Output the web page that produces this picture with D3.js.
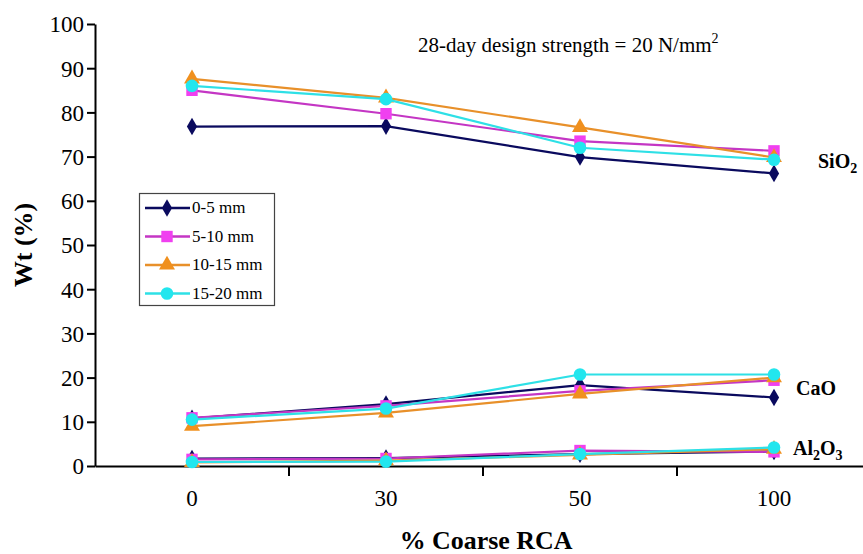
<!DOCTYPE html>
<html>
<head>
<meta charset="utf-8">
<script src="https://cdn.jsdelivr.net/npm/d3@7"></script>
<style>
  body { margin: 0; background: #fff; }
</style>
</head>
<body>
<svg id="chart" width="863" height="554"></svg>
<script>
// categories and series
var categories = ["0", "30", "50", "100"];
var seriesNames = ["0-5 mm", "5-10 mm", "10-15 mm", "15-20 mm"];
var seriesColors = ["#0a0a5e", "#c436c4", "#e8902a", "#2ee0e6"];
var markerFills = ["#0a0a5e", "#f040f0", "#f0901e", "#22e6ee"];
var markerTypes = ["diamond", "square", "triangle", "circle"];

// values per series (rows) and category (columns)
var sio2 = [
  [76.8, 76.9, 69.9, 66.2],
  [85.0, 79.7, 73.5, 71.3],
  [87.6, 83.3, 76.6, 69.8],
  [86.0, 83.0, 72.0, 69.3]
];
var cao = [
  [10.8, 14.0, 18.3, 15.5],
  [10.9, 13.6, 17.0, 19.4],
  [9.0, 12.0, 16.3, 20.0],
  [10.5, 13.0, 20.7, 20.7]
];
var al2o3 = [
  [1.7, 1.8, 2.7, 3.3],
  [1.5, 1.7, 3.5, 3.2],
  [0.8, 1.2, 2.5, 3.8],
  [0.9, 1.0, 2.7, 4.2]
];
var yTicks = [0, 10, 20, 30, 40, 50, 60, 70, 80, 90, 100];

// big sizes fell back to sans here, so big text is set at 18px and scaled up
var FONT = "'Liberation Serif'";

var svg = d3.select("#chart").style("font-family", FONT);

var x = d3.scaleBand().domain(categories).range([95, 871]);
var y = d3.scaleLinear().domain([0, 100]).range([466, 24]);

// axes
var yAxis = d3.axisLeft(y).tickValues(yTicks).tickSize(8).tickSizeOuter(0);
var gy = svg.append("g").attr("transform", "translate(95,0)").call(yAxis).attr("font-family", null);
gy.select(".domain").attr("stroke", "#000").attr("stroke-width", 2);
gy.selectAll(".tick line").attr("stroke", "#000").attr("stroke-width", 2);
gy.selectAll(".tick text").style("font-family", FONT).style("font-size", "18px")
  .attr("fill", "#000").attr("x", 0).attr("dy", "0.34em")
  .attr("transform", "translate(-11,0) scale(1.28)");

var xAxis = d3.axisBottom(x).tickSize(0).tickSizeOuter(0);
var gx = svg.append("g").attr("transform", "translate(0,466)").call(xAxis).attr("font-family", null);
gx.select(".domain").attr("stroke", "#000").attr("stroke-width", 2);
gx.selectAll(".tick text").style("font-family", FONT).style("font-size", "18px")
  .attr("fill", "#000").attr("y", 0).attr("dy", "0.71em")
  .attr("transform", "translate(0,24) scale(1.28)");

// tick marks between categories
var bounds = categories.slice(1).map(function (c) { return x(c); });
svg.append("g").selectAll("line").data(bounds).enter().append("line")
  .attr("x1", function (d) { return d; }).attr("x2", function (d) { return d; })
  .attr("y1", 466).attr("y2", 476)
  .attr("stroke", "#000").attr("stroke-width", 2);

// axis titles
svg.append("text").attr("transform", "translate(486,549) scale(1.44)").attr("text-anchor", "middle")
  .style("font-family", FONT).style("font-size", "18px").style("font-weight", "bold").text("% Coarse RCA");
svg.append("text").attr("transform", "translate(32,245) rotate(-90) scale(1.44)")
  .attr("text-anchor", "middle").style("font-family", FONT).style("font-size", "18px")
  .style("font-weight", "bold").text("Wt (%)");

// annotation
var note = svg.append("text").attr("x", 418).attr("y", 52).style("font-family", FONT).style("font-size", "21px");
note.append("tspan").text("28-day design strength = 20 N/mm");
note.append("tspan").style("font-size", "14px").attr("dy", -9).text("2");

var cx = function (i) { return x(categories[i]) + x.bandwidth() / 2; };
var line = d3.line().x(function (d, i) { return cx(i); }).y(function (d) { return y(d); });

function symbolFor(type) {
  if (type === "diamond") return d3.symbol().type(d3.symbolDiamond).size(90);
  if (type === "square") return d3.symbol().type(d3.symbolSquare).size(130);
  if (type === "triangle") return d3.symbol().type(d3.symbolTriangle).size(110);
  return d3.symbol().type(d3.symbolCircle).size(125);
}

var groups = [sio2, cao, al2o3];
for (var s = 0; s < seriesNames.length; s++) {
  var g = svg.append("g");
  groups.forEach(function (grp) {
    g.append("path").attr("d", line(grp[s])).attr("fill", "none")
      .attr("stroke", seriesColors[s]).attr("stroke-width", 2.2);
  });
  groups.forEach(function (grp) {
    g.selectAll(null).data(grp[s]).enter().append("path")
      .attr("d", symbolFor(markerTypes[s])())
      .attr("transform", function (d, i) { return "translate(" + cx(i) + "," + y(d) + ")"; })
      .attr("fill", markerFills[s]);
  });
}

// oxide labels
function oxideLabel(px, py, parts) {
  var t = svg.append("text").attr("x", px).attr("y", py).style("font-family", FONT)
    .style("font-size", "20px").style("font-weight", "bold");
  parts.forEach(function (p) {
    if (p.sub) {
      t.append("tspan").style("font-size", "14px").attr("dy", 5).text(p.text);
    } else {
      t.append("tspan").attr("dy", p.reset ? -5 : 0).text(p.text);
    }
  });
}
oxideLabel(818, 168, [{ text: "SiO" }, { text: "2", sub: true }]);
oxideLabel(796, 395, [{ text: "CaO" }]);
oxideLabel(793, 455, [{ text: "Al" }, { text: "2", sub: true }, { text: "O", reset: true }, { text: "3", sub: true }]);

// legend
var legend = svg.append("g");
legend.append("rect").attr("x", 139.5).attr("y", 193.5).attr("width", 135).attr("height", 112)
  .attr("fill", "#fff").attr("stroke", "#444").attr("stroke-width", 1.2);
seriesNames.forEach(function (name, i) {
  var ly = 208 + i * 28.5;
  legend.append("line").attr("x1", 145).attr("x2", 190).attr("y1", ly).attr("y2", ly)
    .attr("stroke", seriesColors[i]).attr("stroke-width", 2.5);
  legend.append("path").attr("d", symbolFor(markerTypes[i])())
    .attr("transform", "translate(167," + ly + ")").attr("fill", markerFills[i]);
  legend.append("text").attr("x", 192).attr("y", ly + 5).style("font-family", FONT)
    .style("font-size", "17px").text(name);
});
</script>
</body>
</html>
